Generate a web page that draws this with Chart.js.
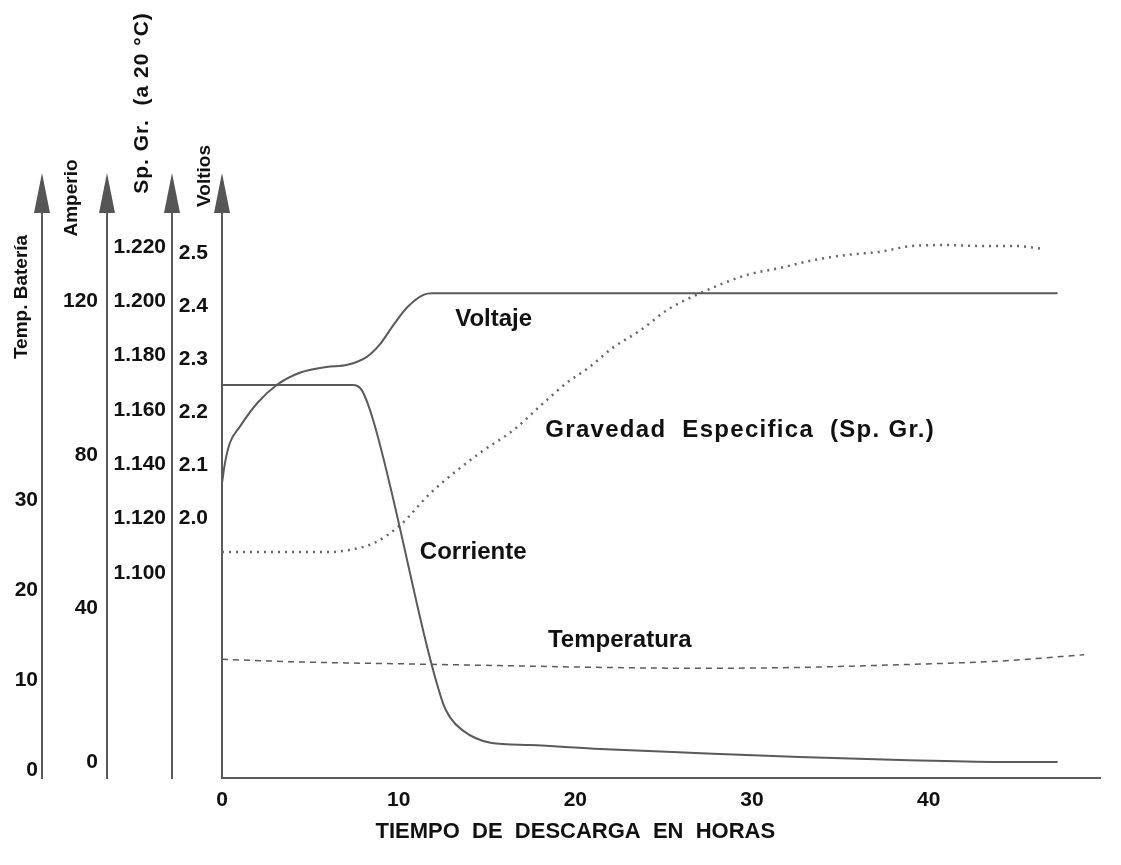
<!DOCTYPE html>
<html>
<head>
<meta charset="utf-8">
<title>Curvas de descarga</title>
<script src="https://cdn.jsdelivr.net/npm/chart.js@4.4.1/dist/chart.umd.min.js"></script>
<style>
  body { margin: 0; background: #fff; }
  #wrap { width: 1121px; height: 865px; }
</style>
</head>
<body>
<div id="wrap"><canvas id="descargaChart"></canvas></div>
<script>
// Curvas de descarga de una bateria: voltaje, corriente, gravedad especifica y temperatura

// eje X: horas de descarga
const hourTicks = [0, 10, 20, 30, 40];

// Voltaje (V)
const voltHours  = [0, 0.17, 0.45, 1.0, 2.0, 3.1, 4.4, 5.9, 7.1, 8.2, 8.9, 9.7, 10.5, 11.4, 11.9, 47.3];
const voltValues = [2.066, 2.104, 2.142, 2.172, 2.217, 2.251, 2.274, 2.285, 2.289, 2.304, 2.326, 2.364, 2.398, 2.421, 2.424, 2.424];

// Corriente (A)
const ampHours  = [0, 7.4, 7.9, 8.55, 12.5, 12.9, 13.6, 15.2, 17.4, 21.4, 27.1, 32.7, 38.4, 44.0, 47.3];
const ampValues = [98.3, 98.3, 97.0, 89.2, 15.4, 11.7, 8.3, 5.0, 4.4, 3.4, 2.3, 1.3, 0.5, 0.0, 0.0];

// Gravedad especifica (a 20 C)
const sgHours  = [0, 6.1, 7.2, 8.6, 10.1, 11.8, 14.6, 16.5, 18.2, 19.5, 20.8, 22.1, 23.7, 25.2, 27.1, 29.7, 31.6, 33.5, 35.4, 37.2, 39.1, 41.0, 42.9, 44.8, 46.5];
const sgValues = [1.1077, 1.1077, 1.1085, 1.1110, 1.1177, 1.1294, 1.1442, 1.1526, 1.1626, 1.1699, 1.1758, 1.1828, 1.1894, 1.1968, 1.2031, 1.2097, 1.2123, 1.2152, 1.2171, 1.2182, 1.2204, 1.2207, 1.2204, 1.2204, 1.2193];

// Temperatura de la bateria (C)
const tempHours  = [0, 4.4, 10.1, 15.7, 21.4, 27.1, 32.7, 38.4, 44.0, 48.8];
const tempValues = [12.3, 12.0, 11.8, 11.6, 11.4, 11.3, 11.4, 11.7, 12.1, 12.8];

// ticks de los ejes verticales
const tempTicks = [0, 10, 20, 30];
const ampTicks  = [0, 40, 80, 120];
const sgTicks   = [1.100, 1.120, 1.140, 1.160, 1.180, 1.200, 1.220];
const voltTicks = [2.0, 2.1, 2.2, 2.3, 2.4, 2.5];

const FONT = '"Liberation Sans", Arial, sans-serif';
const LINE = '#5a5a5a';
const INK = '#111';

function toPoints(xs, ys) {
    return xs.map((x, i) => ({ x: x, y: ys[i] }));
}

function fixedTicks(list) {
    return function(scale) {
        scale.ticks = list.map(v => ({ value: v }));
    };
}

function leftAxis(list, min, max, width, weight, pad, digits) {
    return {
        type: 'linear',
        position: 'left',
        weight: weight,
        min: min,
        max: max,
        afterBuildTicks: fixedTicks(list),
        afterFit: s => { s.width = width; },
        grid: { display: false, drawTicks: false },
        border: { display: true, color: LINE, width: 2 },
        ticks: {
            padding: pad,
            color: INK,
            font: { family: FONT, size: 21, weight: 'bold' },
            callback: v => Number(v).toFixed(digits)
        }
    };
}

function vText(ctx, text, x, y) {
    ctx.save();
    ctx.translate(x, y);
    ctx.rotate(-Math.PI / 2);
    ctx.textAlign = 'center';
    ctx.textBaseline = 'middle';
    ctx.fillText(text, 0, 0);
    ctx.restore();
}

// flechas de los ejes, titulos y etiquetas de las curvas
const extrasPlugin = {
    id: 'extras',
    afterDraw(chart) {
        const ctx = chart.ctx;
        const top = chart.chartArea.top;
        const s = chart.scales;
        ctx.save();

        ['yTemp', 'yAmp', 'ySg', 'yVolt'].forEach(id => {
            const x = s[id].right;
            ctx.beginPath();
            ctx.moveTo(x, top - 17);
            ctx.lineTo(x - 8, top + 23);
            ctx.lineTo(x + 8, top + 23);
            ctx.closePath();
            ctx.fillStyle = '#555';
            ctx.fill();
        });

        ctx.fillStyle = INK;
        ctx.font = 'bold 19px ' + FONT;
        vText(ctx, 'Temp. Batería', s.yTemp.right - 20, top + 107);
        vText(ctx, 'Amperio', s.yAmp.right - 35, top + 8);
        vText(ctx, 'Voltios', s.yVolt.right - 17, top - 14);
        ctx.font = 'bold 21px ' + FONT;
        ctx.letterSpacing = '1px';
        vText(ctx, 'Sp. Gr.  (a 20 °C)', s.ySg.right - 30, top - 87);

        ctx.font = 'bold 24px ' + FONT;
        ctx.textAlign = 'left';
        ctx.textBaseline = 'middle';
        ctx.letterSpacing = '0px';
        ctx.fillText('Voltaje', s.x.getPixelForValue(13.2), s.yVolt.getPixelForValue(2.374));
        ctx.fillText('Corriente', s.x.getPixelForValue(11.2), s.yAmp.getPixelForValue(54.7));
        ctx.fillText('Temperatura', s.x.getPixelForValue(18.45), s.yTemp.getPixelForValue(14.4));
        ctx.letterSpacing = '1.3px';
        ctx.fillText('Gravedad  Especifica  (Sp. Gr.)', s.x.getPixelForValue(18.3), s.ySg.getPixelForValue(1.1526));

        ctx.font = 'bold 22px ' + FONT;
        ctx.letterSpacing = '0px';
        ctx.textAlign = 'center';
        ctx.fillText('TIEMPO  DE  DESCARGA  EN  HORAS', s.x.getPixelForValue(20), s.x.bottom - 33);
        ctx.restore();
    }
};

const ctx = document.getElementById('descargaChart');

const descargaChart = new Chart(ctx, {
    type: 'line',
    data: {
        datasets: [
            {
                label: 'Voltaje',
                data: toPoints(voltHours, voltValues),
                yAxisID: 'yVolt',
                borderColor: LINE,
                borderWidth: 2
            },
            {
                label: 'Corriente',
                data: toPoints(ampHours, ampValues),
                yAxisID: 'yAmp',
                borderColor: LINE,
                borderWidth: 2
            },
            {
                label: 'Gravedad Especifica (Sp. Gr.)',
                data: toPoints(sgHours, sgValues),
                yAxisID: 'ySg',
                borderColor: '#666',
                borderWidth: 2.5,
                borderDash: [2, 5]
            },
            {
                label: 'Temperatura',
                data: toPoints(tempHours, tempValues),
                yAxisID: 'yTemp',
                borderColor: LINE,
                borderWidth: 1.5,
                borderDash: [6, 5]
            }
        ]
    },
    options: {
        responsive: true,
        maintainAspectRatio: false,
        animation: false,
        layout: { padding: { top: 190, right: 21, bottom: 0, left: 0 } },
        elements: {
            point: { radius: 0 },
            line: { cubicInterpolationMode: 'monotone', fill: false }
        },
        plugins: {
            legend: { display: false },
            tooltip: { enabled: false }
        },
        scales: {
            x: {
                type: 'linear',
                min: 0,
                max: 49.7,
                afterBuildTicks: fixedTicks(hourTicks),
                afterFit: s => { s.height = 87; },
                grid: { display: false, drawTicks: false },
                border: { display: true, color: LINE, width: 2 },
                ticks: {
                    padding: 10,
                    color: INK,
                    font: { family: FONT, size: 21, weight: 'bold' }
                }
            },
            yTemp: leftAxis(tempTicks, -0.89, 64.44, 42, 4, 4, 0),
            yAmp: leftAxis(ampTicks, -4.17, 149.1, 65, 3, 9, 0),
            ySg: leftAxis(sgTicks, 1.02454, 1.24098, 65, 2, 6, 3),
            yVolt: leftAxis(voltTicks, 1.5094, 2.6189, 50, 1, 14, 1)
        }
    },
    plugins: [extrasPlugin]
});
</script>
</body>
</html>
